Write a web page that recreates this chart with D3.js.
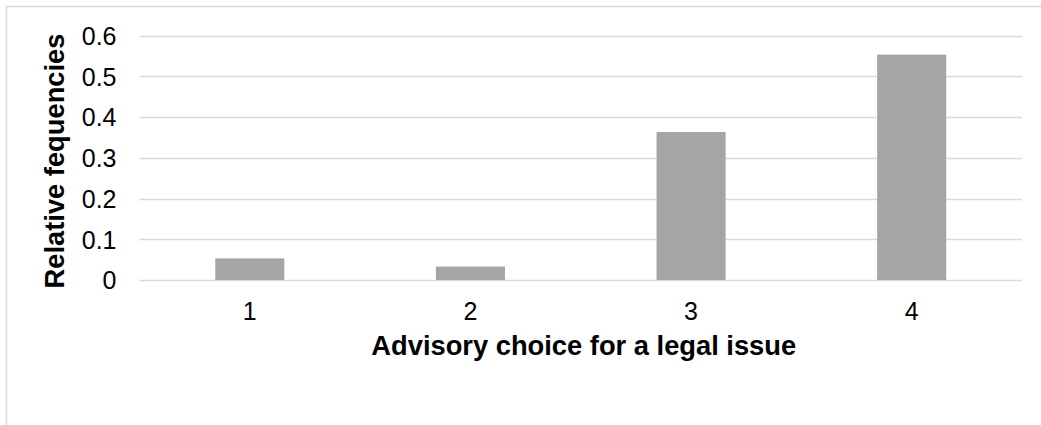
<!DOCTYPE html>
<html>
<head>
<meta charset="utf-8">
<script src="https://cdn.jsdelivr.net/npm/d3@7"></script>
<style>
  body { margin: 0; background: #fff; }
  text { font-family: "Liberation Sans", Arial, sans-serif; fill: #000; }
</style>
</head>
<body>
<div id="chart"></div>
<script>
var categories = ["1", "2", "3", "4"];
var values = [0.053, 0.033, 0.363, 0.553];
var yTicks = [0, 0.1, 0.2, 0.3, 0.4, 0.5, 0.6];

var width = 1041, height = 425;
var margin = {left: 139.5, right: 19, top: 35.5, bottom: 145};

var svg = d3.select("#chart").append("svg")
  .attr("width", width)
  .attr("height", height);

// chart frame (only top/left visible)
svg.append("rect")
  .attr("x", 6.5).attr("y", 6.5)
  .attr("width", width + 10).attr("height", height + 10)
  .attr("fill", "none")
  .attr("stroke", "#d9d9d9")
  .attr("stroke-width", 1.5);

var x = d3.scaleBand()
  .domain(categories)
  .range([margin.left, width - margin.right])
  .paddingInner(0.687)
  .paddingOuter(0.3435);

var y = d3.scaleLinear()
  .domain([0, 0.6])
  .range([height - margin.bottom, margin.top]);

// gridlines
svg.append("g")
  .selectAll("line")
  .data(yTicks)
  .join("line")
  .attr("x1", margin.left)
  .attr("x2", width - margin.right)
  .attr("y1", d => Math.round(y(d)) + 0.5)
  .attr("y2", d => Math.round(y(d)) + 0.5)
  .attr("stroke", "#d9d9d9")
  .attr("stroke-width", 1.5);

// bars
svg.append("g")
  .selectAll("rect")
  .data(values)
  .join("rect")
  .attr("x", (d, i) => x(categories[i]))
  .attr("width", x.bandwidth())
  .attr("y", d => y(d))
  .attr("height", d => y(0) - y(d))
  .attr("fill", "#a5a5a5");

// y axis labels
var yAxis = d3.axisLeft(y)
  .tickValues(yTicks)
  .tickFormat(d => d === 0 ? "0" : d3.format(".1f")(d))
  .tickSize(0)
  .tickPadding(0);

var gy = svg.append("g")
  .attr("transform", "translate(" + (margin.left - 23) + ",0)")
  .call(yAxis);
gy.select(".domain").remove();
gy.selectAll("text")
  .style("font-size", "25px")
  .attr("dy", "0.35em");

// x axis labels
var xAxis = d3.axisBottom(x).tickSize(0).tickPadding(0);
var gx = svg.append("g")
  .call(xAxis);
gx.select(".domain").remove();
gx.selectAll("text")
  .attr("y", 320)
  .attr("dy", 0)
  .style("font-size", "25px");

// axis titles
svg.append("text")
  .attr("x", (margin.left + width - margin.right) / 2 + 3)
  .attr("y", 355)
  .attr("text-anchor", "middle")
  .style("font-size", "27.3px")
  .style("font-weight", "bold")
  .text("Advisory choice for a legal issue");

svg.append("text")
  .attr("transform", "translate(64,161) rotate(-90)")
  .attr("text-anchor", "middle")
  .style("font-size", "27.3px")
  .style("font-weight", "bold")
  .text("Relative fequencies");
</script>
</body>
</html>
